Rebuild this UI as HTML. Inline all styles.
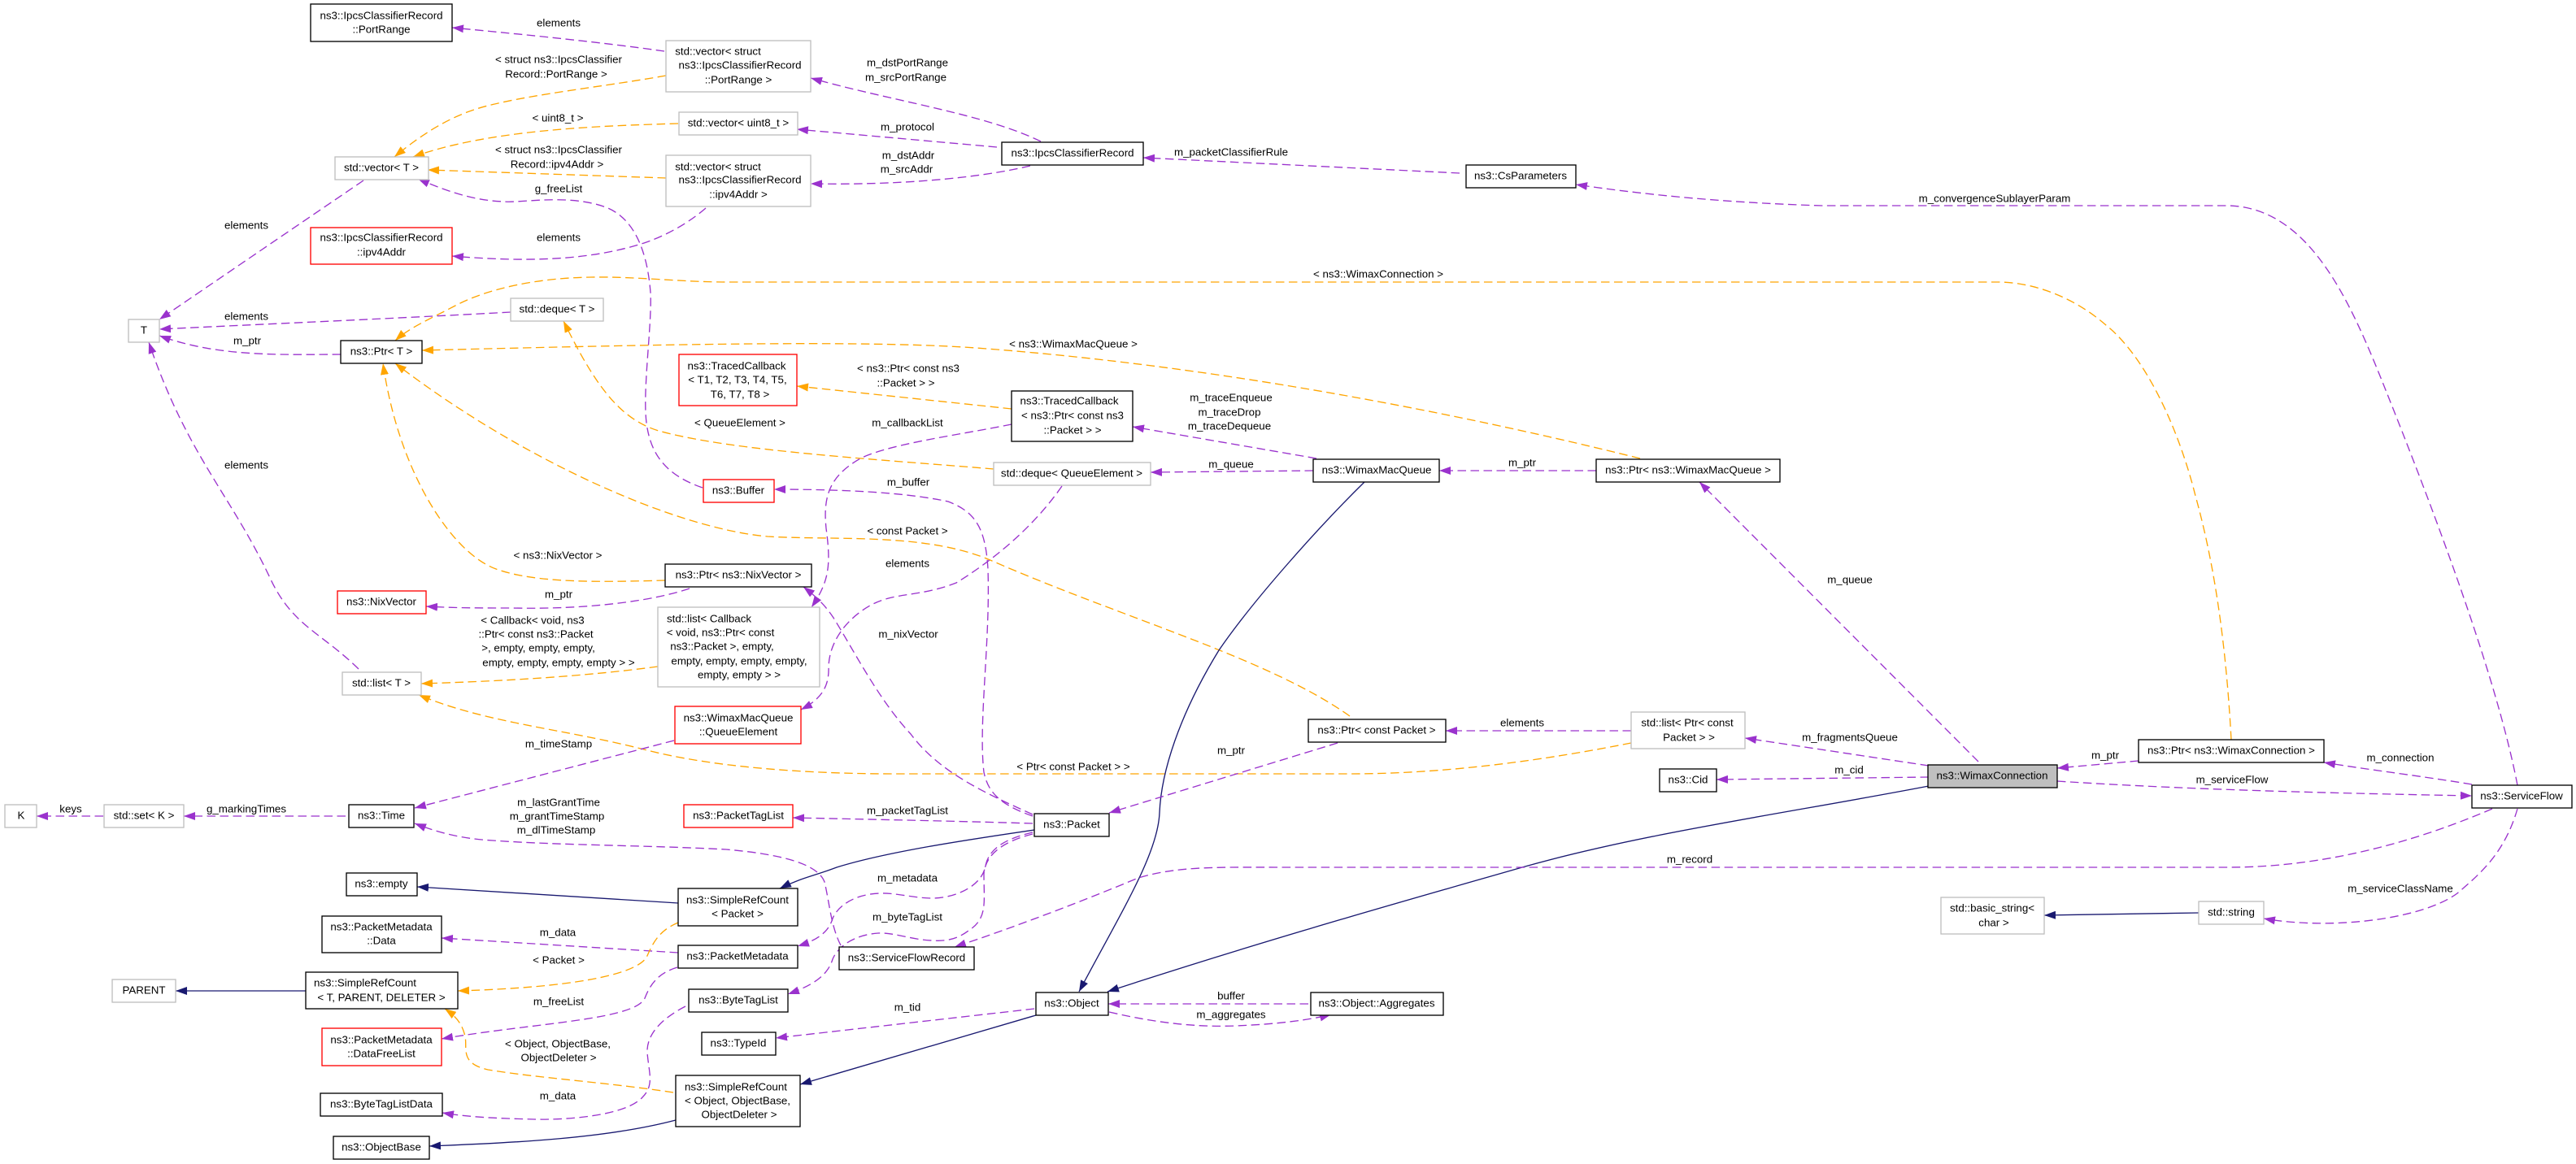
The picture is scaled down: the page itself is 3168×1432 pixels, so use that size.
<!DOCTYPE html>
<html>
<head>
<meta charset="utf-8">
<title>ns3::WimaxConnection collaboration diagram</title>
<style>
html,body{margin:0;padding:0;background:#fff;width:3168px;height:1432px;overflow:hidden}
svg{display:block}
text{font-family:"Liberation Sans",Helvetica,Arial,sans-serif;font-size:13.33px;text-anchor:middle;dominant-baseline:central;fill:#000}
.p,.o,.b{fill:none;stroke-width:1.33}
.p{stroke:#9A32CD;stroke-dasharray:10.5 5.5;marker-end:url(#mp)}
.o{stroke:#FFA500;stroke-dasharray:10.5 5.5;marker-end:url(#mo)}
.b{stroke:#191970;marker-end:url(#mb)}
rect{fill:#fff;stroke-width:1.33}
.k{stroke:#000}
.g{stroke:#BFBFBF}
.r{stroke:#FF0000}
</style>
</head>
<body>
<svg xmlns="http://www.w3.org/2000/svg" width="3168" height="1432" viewBox="0 0 3168 1432">
<defs>
<marker id="mp" markerUnits="userSpaceOnUse" markerWidth="14" markerHeight="10" refX="14" refY="5" orient="auto"><polygon points="0,0 14,5 0,10" fill="#9A32CD"/></marker>
<marker id="mo" markerUnits="userSpaceOnUse" markerWidth="14" markerHeight="10" refX="14" refY="5" orient="auto"><polygon points="0,0 14,5 0,10" fill="#FFA500"/></marker>
<marker id="mb" markerUnits="userSpaceOnUse" markerWidth="14" markerHeight="10" refX="14" refY="5" orient="auto"><polygon points="0,0 14,5 0,10" fill="#191970"/></marker>
</defs>
<rect x="0" y="0" width="3168" height="1432" style="stroke:none"/>

<!-- edges -->
<path class="p" d="M817,63 C740,52 650,43 556,34"/>
<path class="o" d="M819,93 C740,107 660,115 600,130 C560,140 525,160 485,193"/>
<path class="o" d="M834,152 C730,155 600,160 508,193"/>
<path class="o" d="M819,219 L526,209"/>
<path class="p" d="M868,256 C840,280 810,293 792,299 C720,322 640,322 556,315"/>
<path class="p" d="M864,600 C820,585 800,560 795,520 C790,480 802,400 800,360 C797,320 785,270 745,255 C700,238 640,250 620,248 C590,247 560,240 514,220"/>
<path class="p" d="M447,222 L196,393"/>
<path class="p" d="M628,384 C480,392 340,398 196,405"/>
<path class="p" d="M419,436 C350,436 270,440 196,413"/>
<path class="p" d="M441,823 C395,778 360,770 333,713 C285,610 230,560 183,421"/>
<path class="o" d="M2744,910 C2738,800 2725,700 2700,610 C2680,530 2640,440 2590,400 C2550,365 2500,347 2457,347 L893,347 C840,347 780,340 727,341 C660,342 600,355 560,376 C530,392 505,402 486,419"/>
<path class="o" d="M2017,564 C1800,510 1500,450 1200,428 C1060,418 800,424 519,431"/>
<path class="o" d="M818,714 C740,716 660,718 610,700 C555,680 490,580 471,447"/>
<path class="o" d="M1660,881 C1560,810 1380,760 1220,690 C1140,655 1030,665 944,660 C830,650 640,565 486,447"/>
<path class="o" d="M1222,577 C1080,565 900,555 810,530 C760,515 730,470 693,395"/>
<path class="o" d="M1244,503 L980,475"/>
<path class="p" d="M1244,522 C1180,535 1100,545 1060,563 C1020,585 1012,610 1016,650 C1022,695 1020,715 998,747"/>
<path class="o" d="M809,820 C720,832 620,838 518,841"/>
<path class="o" d="M2006,914 C1900,935 1780,952 1660,952 L1100,952 C1000,952 880,945 792,922 C690,896 600,890 515,855"/>
<path class="p" d="M848,724 C800,740 720,750 630,748 C590,748 560,748 524,746"/>
<path class="p" d="M1270,1002 C1210,975 1155,950 1120,903 C1080,860 1050,800 1025,760 C1015,745 1005,735 988,722"/>
<path class="p" d="M1270,1004 C1230,990 1215,975 1210,950 C1203,890 1218,790 1215,700 C1212,650 1200,630 1166,617 C1110,605 1030,602 952,602"/>
<path class="p" d="M1270,1013 C1170,1010 1070,1008 975,1006"/>
<path class="b" d="M1272,1021 C1190,1033 1090,1048 1029,1067 C1000,1078 985,1080 959,1093"/>
<path class="p" d="M1270,1024 C1235,1032 1216,1045 1212,1065 C1208,1090 1175,1105 1146,1105 C1125,1105 1100,1098 1082,1099 C1050,1100 1030,1115 1024,1130 C1018,1150 1000,1158 981,1164"/>
<path class="p" d="M1270,1026 C1235,1035 1212,1050 1210,1075 C1210,1110 1215,1130 1191,1145 C1175,1157 1160,1158 1146,1157 C1120,1156 1100,1147 1080,1148 C1050,1150 1030,1165 1024,1180 C1018,1200 1000,1212 969,1223"/>
<path class="p" d="M1034,1163 C1022,1140 1020,1110 1014,1085 C1005,1060 950,1050 893,1045 C800,1040 690,1040 606,1034 C570,1032 540,1025 510,1013"/>
<path class="p" d="M829,911 L510,994"/>
<path class="p" d="M425,1004 L226,1004"/>
<path class="p" d="M127,1004 L45,1004"/>
<path class="b" d="M834,1111 L513,1091"/>
<path class="b" d="M831,1378 C740,1402 620,1406 528,1410"/>
<path class="p" d="M834,1172 L543,1154"/>
<path class="b" d="M376,1219 L216,1219"/>
<path class="o" d="M834,1135 C810,1145 803,1160 795,1178 C780,1200 700,1215 563,1219"/>
<path class="o" d="M828,1344 C750,1332 660,1326 600,1316 C565,1308 575,1290 572,1275 C568,1258 560,1250 547,1241"/>
<path class="p" d="M833,1190 C810,1197 800,1210 793,1228 C780,1255 660,1258 543,1278"/>
<path class="p" d="M843,1238 C810,1255 795,1275 796,1295 C798,1320 805,1335 790,1350 C770,1372 700,1378 657,1377 C620,1376 580,1375 544,1369"/>
<path class="b" d="M1274,1249 L984,1334"/>
<path class="p" d="M1272,1241 L954,1277"/>
<path class="p" d="M1609,1235 L1363,1235"/>
<path class="p" d="M1364,1245 C1420,1258 1470,1264 1520,1262 C1570,1260 1610,1255 1637,1248"/>
<path class="b" d="M1678,593 C1620,650 1540,740 1499,800 C1450,880 1428,950 1426,1000 C1424,1050 1380,1120 1327,1220"/>
<path class="b" d="M2372,967 C2200,1000 2020,1025 1872,1067 C1750,1102 1560,1155 1362,1220"/>
<path class="p" d="M2433,937 L2090,593"/>
<path class="p" d="M1963,579 L1770,579"/>
<path class="p" d="M1615,579 L1415,581"/>
<path class="p" d="M1619,564 L1393,525"/>
<path class="p" d="M1306,598 C1270,650 1220,690 1176,717 C1130,735 1100,728 1070,745 C1040,762 1020,790 1019,820 C1020,845 1010,860 985,873"/>
<path class="p" d="M2006,899 L1778,899"/>
<path class="p" d="M1645,914 L1364,1000"/>
<path class="p" d="M2372,942 L2146,908"/>
<path class="p" d="M2372,956 L2111,959"/>
<path class="p" d="M2630,936 L2530,945"/>
<path class="p" d="M2530,961 C2700,972 2880,976 3040,979"/>
<path class="p" d="M3040,965 C2980,955 2920,948 2858,938"/>
<path class="p" d="M3096,966 C3070,830 2990,620 2932,475 C2890,370 2840,255 2740,253 L2241,253 C2140,250 2040,242 1938,227"/>
<path class="p" d="M3096,995 C3080,1050 3050,1075 3022,1099 C2980,1130 2870,1145 2784,1130"/>
<path class="b" d="M2704,1123 L2514,1126"/>
<path class="p" d="M3065,995 C2960,1040 2850,1067 2740,1067 L1584,1067 C1500,1067 1450,1065 1400,1080 C1340,1105 1250,1140 1174,1165"/>
<path class="p" d="M1280,174 C1210,140 1100,125 997,96"/>
<path class="p" d="M1226,181 L980,159"/>
<path class="p" d="M1267,204 C1200,220 1100,228 997,226"/>
<path class="p" d="M1795,213 L1406,194"/>

<!-- nodes -->
<rect class="k" x="382" y="5" width="174" height="46"/>
<rect class="g" x="412" y="193" width="115" height="28"/>
<rect class="r" x="382" y="280" width="174" height="45"/>
<rect class="g" x="158" y="393" width="38" height="28"/>
<rect class="g" x="628" y="367" width="114" height="28"/>
<rect class="k" x="419" y="419" width="100" height="28"/>
<rect class="g" x="819" y="50" width="178" height="63"/>
<rect class="g" x="835" y="138" width="146" height="28"/>
<rect class="g" x="819" y="191" width="178" height="63"/>
<rect class="k" x="1232" y="175" width="174" height="28"/>
<rect class="r" x="835" y="436" width="145" height="63"/>
<rect class="k" x="1803" y="203" width="135" height="28"/>
<rect class="k" x="1244" y="481" width="149" height="62"/>
<rect class="g" x="1222" y="569" width="193" height="28"/>
<rect class="r" x="865" y="590" width="87" height="28"/>
<rect class="k" x="818" y="694" width="180" height="28"/>
<rect class="g" x="809" y="747" width="199" height="98"/>
<rect class="r" x="830" y="869" width="155" height="46"/>
<rect class="r" x="415" y="727" width="109" height="28"/>
<rect class="g" x="421" y="827" width="97" height="28"/>
<rect class="k" x="1615" y="565" width="155" height="28"/>
<rect class="k" x="1963" y="565" width="226" height="28"/>
<rect class="k" x="1609" y="885" width="169" height="28"/>
<rect class="g" x="2006" y="876" width="140" height="45"/>
<rect class="k" x="2041" y="946" width="70" height="28"/>
<rect class="k" x="2630" y="910" width="228" height="28"/>
<rect class="k" x="2371" y="941" width="159" height="28" style="fill:#BFBFBF"/>
<rect class="k" x="3040" y="966" width="123" height="28"/>
<rect class="g" x="2387" y="1104" width="127" height="45"/>
<rect class="g" x="2704" y="1109" width="80" height="28"/>
<rect class="g" x="6" y="990" width="39" height="28"/>
<rect class="g" x="128" y="990" width="98" height="28"/>
<rect class="k" x="429" y="990" width="80" height="28"/>
<rect class="k" x="426" y="1074" width="87" height="28"/>
<rect class="k" x="396" y="1127" width="147" height="45"/>
<rect class="k" x="376" y="1196" width="187" height="45"/>
<rect class="g" x="138" y="1205" width="78" height="28"/>
<rect class="r" x="396" y="1265" width="147" height="46"/>
<rect class="k" x="394" y="1345" width="150" height="28"/>
<rect class="k" x="410" y="1398" width="118" height="28"/>
<rect class="r" x="841" y="990" width="134" height="28"/>
<rect class="k" x="1272" y="1001" width="92" height="28"/>
<rect class="k" x="834" y="1093" width="147" height="46"/>
<rect class="k" x="834" y="1163" width="147" height="28"/>
<rect class="k" x="1032" y="1165" width="166" height="28"/>
<rect class="k" x="847" y="1217" width="122" height="28"/>
<rect class="k" x="1274" y="1221" width="89" height="28"/>
<rect class="k" x="863" y="1270" width="91" height="28"/>
<rect class="k" x="831" y="1323" width="153" height="63"/>
<rect class="k" x="1612" y="1221" width="163" height="28"/>

<!-- node labels -->
<text x="469" y="19">ns3::IpcsClassifierRecord</text>
<text x="469" y="36">::PortRange</text>
<text x="469" y="206">std::vector&lt; T &gt;</text>
<text x="469" y="292">ns3::IpcsClassifierRecord</text>
<text x="469" y="310">::ipv4Addr</text>
<text x="177" y="406">T</text>
<text x="685" y="380">std::deque&lt; T &gt;</text>
<text x="469" y="432">ns3::Ptr&lt; T &gt;</text>
<text x="883" y="63">std::vector&lt; struct</text>
<text x="910" y="80">ns3::IpcsClassifierRecord</text>
<text x="908" y="98">::PortRange &gt;</text>
<text x="908" y="151">std::vector&lt; uint8_t &gt;</text>
<text x="883" y="205">std::vector&lt; struct</text>
<text x="910" y="221">ns3::IpcsClassifierRecord</text>
<text x="908" y="239">::ipv4Addr &gt;</text>
<text x="1319" y="188">ns3::IpcsClassifierRecord</text>
<text x="906" y="450">ns3::TracedCallback</text>
<text x="907" y="467">&lt; T1, T2, T3, T4, T5,</text>
<text x="910" y="485">T6, T7, T8 &gt;</text>
<text x="1870" y="216">ns3::CsParameters</text>
<text x="1315" y="493">ns3::TracedCallback</text>
<text x="1319" y="511">&lt; ns3::Ptr&lt; const ns3</text>
<text x="1319" y="529">::Packet &gt; &gt;</text>
<text x="1318" y="582">std::deque&lt; QueueElement &gt;</text>
<text x="908" y="603">ns3::Buffer</text>
<text x="908" y="707">ns3::Ptr&lt; ns3::NixVector &gt;</text>
<text x="872" y="761">std::list&lt; Callback</text>
<text x="886" y="778">&lt; void, ns3::Ptr&lt; const</text>
<text x="888" y="795">ns3::Packet &gt;, empty,</text>
<text x="909" y="813">empty, empty, empty, empty,</text>
<text x="909" y="830">empty, empty &gt; &gt;</text>
<text x="908" y="883">ns3::WimaxMacQueue</text>
<text x="908" y="900">::QueueElement</text>
<text x="469" y="740">ns3::NixVector</text>
<text x="469" y="840">std::list&lt; T &gt;</text>
<text x="1693" y="578">ns3::WimaxMacQueue</text>
<text x="2076" y="578">ns3::Ptr&lt; ns3::WimaxMacQueue &gt;</text>
<text x="1693" y="898">ns3::Ptr&lt; const Packet &gt;</text>
<text x="2075" y="889">std::list&lt; Ptr&lt; const</text>
<text x="2077" y="907">Packet &gt; &gt;</text>
<text x="2076" y="959">ns3::Cid</text>
<text x="2744" y="923">ns3::Ptr&lt; ns3::WimaxConnection &gt;</text>
<text x="2450" y="954">ns3::WimaxConnection</text>
<text x="3101" y="979">ns3::ServiceFlow</text>
<text x="2450" y="1117">std::basic_string&lt;</text>
<text x="2452" y="1135">char &gt;</text>
<text x="2744" y="1122">std::string</text>
<text x="26" y="1003">K</text>
<text x="177" y="1003">std::set&lt; K &gt;</text>
<text x="469" y="1003">ns3::Time</text>
<text x="469" y="1087">ns3::empty</text>
<text x="469" y="1140">ns3::PacketMetadata</text>
<text x="469" y="1157">::Data</text>
<text x="449" y="1209">ns3::SimpleRefCount</text>
<text x="469" y="1227">&lt; T, PARENT, DELETER &gt;</text>
<text x="177" y="1218">PARENT</text>
<text x="469" y="1279">ns3::PacketMetadata</text>
<text x="469" y="1296">::DataFreeList</text>
<text x="469" y="1358">ns3::ByteTagListData</text>
<text x="469" y="1411">ns3::ObjectBase</text>
<text x="908" y="1003">ns3::PacketTagList</text>
<text x="1318" y="1014">ns3::Packet</text>
<text x="907" y="1107">ns3::SimpleRefCount</text>
<text x="907" y="1124">&lt; Packet &gt;</text>
<text x="907" y="1176">ns3::PacketMetadata</text>
<text x="1115" y="1178">ns3::ServiceFlowRecord</text>
<text x="908" y="1230">ns3::ByteTagList</text>
<text x="1318" y="1234">ns3::Object</text>
<text x="908" y="1283">ns3::TypeId</text>
<text x="905" y="1337">ns3::SimpleRefCount</text>
<text x="907" y="1354">&lt; Object, ObjectBase,</text>
<text x="909" y="1371">ObjectDeleter &gt;</text>
<text x="1693" y="1234">ns3::Object::Aggregates</text>

<!-- edge labels -->
<text x="687" y="28">elements</text>
<text x="687" y="73">&lt; struct ns3::IpcsClassifier</text>
<text x="684" y="91">Record::PortRange &gt;</text>
<text x="686" y="145">&lt; uint8_t &gt;</text>
<text x="687" y="184">&lt; struct ns3::IpcsClassifier</text>
<text x="685" y="202">Record::ipv4Addr &gt;</text>
<text x="687" y="232">g_freeList</text>
<text x="303" y="277">elements</text>
<text x="687" y="292">elements</text>
<text x="303" y="389">elements</text>
<text x="304" y="419">m_ptr</text>
<text x="1116" y="77">m_dstPortRange</text>
<text x="1114" y="95">m_srcPortRange</text>
<text x="1116" y="156">m_protocol</text>
<text x="1117" y="191">m_dstAddr</text>
<text x="1115" y="208">m_srcAddr</text>
<text x="1514" y="187">m_packetClassifierRule</text>
<text x="1320" y="423">&lt; ns3::WimaxMacQueue &gt;</text>
<text x="1117" y="453">&lt; ns3::Ptr&lt; const ns3</text>
<text x="1114" y="471">::Packet &gt; &gt;</text>
<text x="1695" y="337">&lt; ns3::WimaxConnection &gt;</text>
<text x="2453" y="244">m_convergenceSublayerParam</text>
<text x="303" y="572">elements</text>
<text x="686" y="683">&lt; ns3::NixVector &gt;</text>
<text x="687" y="731">m_ptr</text>
<text x="655" y="763">&lt; Callback&lt; void, ns3</text>
<text x="659" y="780">::Ptr&lt; const ns3::Packet</text>
<text x="662" y="797">&gt;, empty, empty, empty,</text>
<text x="687" y="815">empty, empty, empty, empty &gt; &gt;</text>
<text x="687" y="915">m_timeStamp</text>
<text x="910" y="520">&lt; QueueElement &gt;</text>
<text x="1116" y="520">m_callbackList</text>
<text x="1514" y="489">m_traceEnqueue</text>
<text x="1512" y="507">m_traceDrop</text>
<text x="1512" y="524">m_traceDequeue</text>
<text x="1514" y="571">m_queue</text>
<text x="1117" y="593">m_buffer</text>
<text x="1116" y="653">&lt; const Packet &gt;</text>
<text x="1116" y="693">elements</text>
<text x="1117" y="780">m_nixVector</text>
<text x="1514" y="923">m_ptr</text>
<text x="1320" y="943">&lt; Ptr&lt; const Packet &gt; &gt;</text>
<text x="1872" y="569">m_ptr</text>
<text x="2275" y="713">m_queue</text>
<text x="1872" y="889">elements</text>
<text x="2275" y="907">m_fragmentsQueue</text>
<text x="2274" y="947">m_cid</text>
<text x="2589" y="929">m_ptr</text>
<text x="2952" y="932">m_connection</text>
<text x="2745" y="959">m_serviceFlow</text>
<text x="2952" y="1093">m_serviceClassName</text>
<text x="2078" y="1057">m_record</text>
<text x="87" y="995">keys</text>
<text x="303" y="995">g_markingTimes</text>
<text x="687" y="987">m_lastGrantTime</text>
<text x="685" y="1004">m_grantTimeStamp</text>
<text x="684" y="1021">m_dlTimeStamp</text>
<text x="686" y="1147">m_data</text>
<text x="687" y="1181">&lt; Packet &gt;</text>
<text x="687" y="1232">m_freeList</text>
<text x="686" y="1284">&lt; Object, ObjectBase,</text>
<text x="687" y="1301">ObjectDeleter &gt;</text>
<text x="686" y="1348">m_data</text>
<text x="1116" y="997">m_packetTagList</text>
<text x="1116" y="1080">m_metadata</text>
<text x="1116" y="1128">m_byteTagList</text>
<text x="1116" y="1239">m_tid</text>
<text x="1514" y="1225">buffer</text>
<text x="1514" y="1248">m_aggregates</text>
</svg>
</body>
</html>
